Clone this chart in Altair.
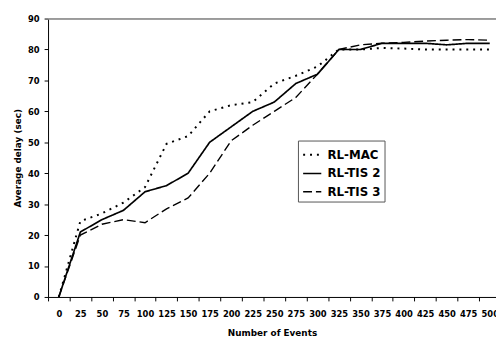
import altair as alt
import pandas as pd

events = [0, 25, 50, 75, 100, 125, 150, 175, 200, 225, 250, 275, 300, 325, 350, 375, 400, 425, 450, 475, 500]
rl_mac = [0, 24.5, 27, 30.5, 35.5, 49.5, 52, 60, 62, 63, 69, 71.5, 74.5, 80, 80, 80.5, 80.3, 80, 80, 80, 80]
rl_tis2 = [0, 21, 25, 28, 34, 36, 40, 50, 55, 60, 63, 69, 72, 80, 80, 82, 82, 82, 81.5, 82, 82]
rl_tis3 = [0, 20, 23.5, 25, 24, 28.5, 32, 40, 50.5, 55.5, 60, 64.5, 72, 80, 81.5, 82, 82.3, 82.7, 83, 83.2, 83]
series_names = ["RL-MAC", "RL-TIS 2", "RL-TIS 3"]
y_ticks = [0, 10, 20, 30, 40, 50, 60, 70, 80, 90]
y_max = 90

rows = []
for name, vals in zip(series_names, [rl_mac, rl_tis2, rl_tis3]):
    for e, v in zip(events, vals):
        rows.append({"events": e, "delay": v, "series": name})
df = pd.DataFrame(rows)

FONT = "DejaVu Sans"
step = 21.9  # px per category
plot_w = 455.3
x_min = -12.5
x_max = x_min + plot_w / step * 25

legend = alt.Legend(
    title=None, orient="none", legendX=254, legendY=124,
    symbolType="stroke", symbolSize=340, symbolStrokeColor="black",
    labelFont=FONT, labelFontWeight="bold", labelFontSize=12, labelColor="black",
    padding=4, strokeColor="#555555", fillColor="white", rowPadding=2,
    labelOffset=5,
)

y_axis = alt.Axis(values=y_ticks, title="Average delay (sec)",
                  tickSize=4, labelPadding=5, grid=False,
                  domainColor="black", tickColor="black",
                  labelFont=FONT, labelFontWeight="bold", labelFontSize=8.5,
                  labelColor="black",
                  titleFont=FONT, titleFontWeight="bold", titleFontSize=9,
                  titleColor="black", titlePadding=5)
y_scale = alt.Scale(domain=[0, y_max], nice=False)

x_enc = alt.X("events:Q",
              scale=alt.Scale(domain=[x_min, x_max], nice=False, zero=False),
              axis=alt.Axis(values=events, format="d", title="Number of Events",
                            tickOffset=-step / 2, labelOffset=step / 2,
                            tickSize=4, labelPadding=9, grid=False,
                            domainColor="black", tickColor="black",
                            labelFont=FONT, labelFontWeight="bold", labelFontSize=8.5,
                            labelColor="black", labelOverlap=False,
                            titleFont=FONT, titleFontWeight="bold", titleFontSize=9,
                            titleColor="black", titlePadding=11))

lines = alt.Chart(df).mark_line(clip=True, strokeCap="butt").encode(
    x=x_enc,
    y=alt.Y("delay:Q", scale=y_scale, axis=y_axis),
    color=alt.Color("series:N", sort=series_names,
                    scale=alt.Scale(domain=series_names, range=["black", "black", "black"]),
                    legend=legend),
    strokeDash=alt.StrokeDash("series:N", sort=series_names,
                              scale=alt.Scale(domain=series_names, range=[[2, 5], [1, 0], [9, 4]]),
                              legend=legend),
    strokeWidth=alt.StrokeWidth("series:N", sort=series_names,
                                scale=alt.Scale(domain=series_names, range=[2, 1.4, 1.6]),
                                legend=legend),
)

top_border = alt.Chart(df).mark_rule(color="#9a9a9a", strokeWidth=1).encode(
    y=alt.YDatum(y_max, axis=y_axis, scale=y_scale)
)

chart = alt.layer(lines, top_border).properties(
    width=plot_w, height=283,
    padding={"left": 40.7, "top": 8, "right": 0, "bottom": 40},
    autosize=alt.AutoSizeParams(type="none"),
).configure_view(
    strokeWidth=0
).configure(background="white")

chart.save("out.html", embed_options={"renderer": "svg", "actions": False})
